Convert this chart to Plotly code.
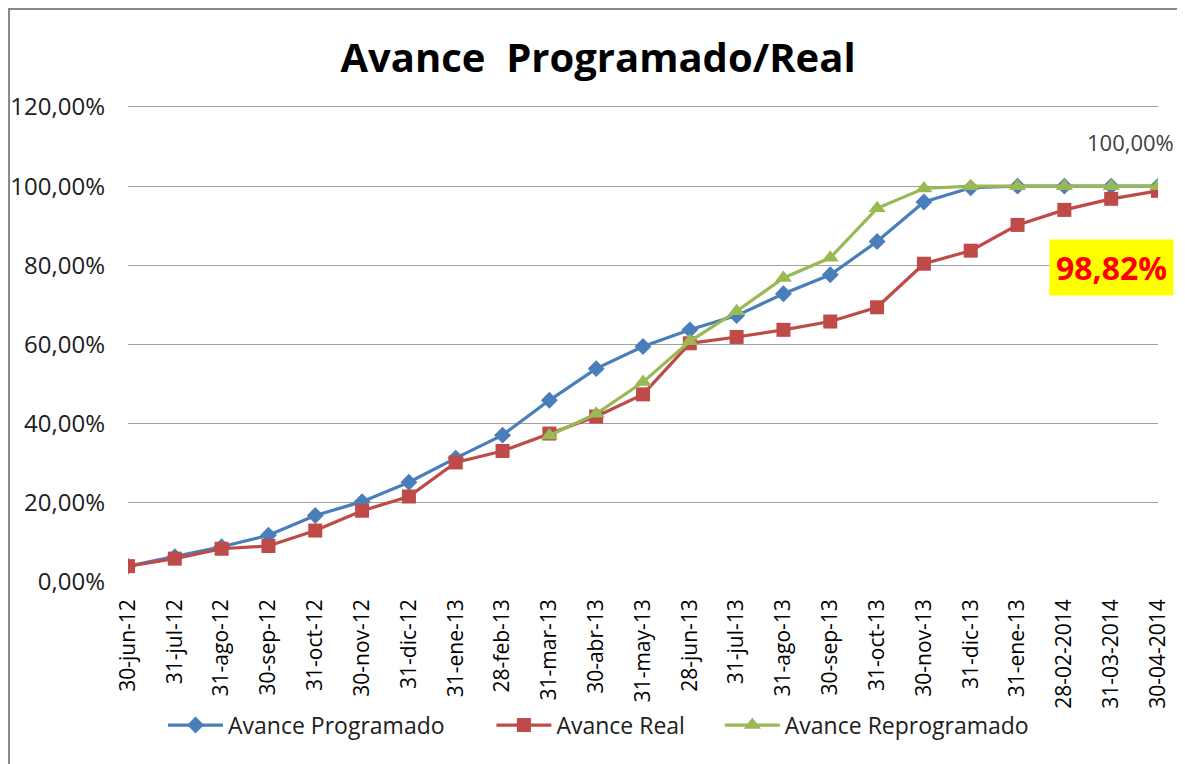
import plotly.graph_objects as go

dates = ["30-jun-12", "31-jul-12", "31-ago-12", "30-sep-12", "31-oct-12", "30-nov-12",
         "31-dic-12", "31-ene-13", "28-feb-13", "31-mar-13", "30-abr-13", "31-may-13",
         "28-jun-13", "31-jul-13", "31-ago-13", "30-sep-13", "31-oct-13", "30-nov-13",
         "31-dic-13", "31-ene-13", "28-02-2014", "31-03-2014", "30-04-2014"]

programado = [4.0, 6.4, 8.9, 11.8, 16.8, 20.3, 25.2, 31.3, 37.1, 45.9, 53.9, 59.5,
              63.7, 67.3, 72.8, 77.6, 86.0, 96.0, 99.6, 100, 100, 100, 100]
real = [4.0, 5.9, 8.4, 9.1, 13.0, 18.0, 21.6, 30.2, 33.1, 37.5, 41.8, 47.4,
        60.3, 61.9, 63.7, 65.8, 69.4, 80.4, 83.7, 90.2, 94.0, 96.8, 98.82]
reprogramado = [None] * 9 + [37.0, 42.5, 50.5, 60.8, 68.4, 76.8, 81.9, 94.4,
                             99.4, 100, 100, 100, 100, 100]

y_ticks = [0, 20, 40, 60, 80, 100, 120]
y_ticktext = [f"{v:.2f}".replace(".", ",") + "%" for v in y_ticks]

idx = list(range(len(dates)))
FONT = "Open Sans"

fig = go.Figure()
fig.add_trace(go.Scatter(x=idx, y=programado, name="Avance Programado" + "\u00a0" * 7,
                         mode="lines+markers",
                         line=dict(color="#4A7EBB", width=3.2),
                         marker=dict(symbol="diamond", size=13, color="#4A7EBB")))
fig.add_trace(go.Scatter(x=idx, y=real, name="Avance Real" + "\u00a0" * 5,
                         mode="lines+markers",
                         line=dict(color="#BE4B48", width=3.2),
                         marker=dict(symbol="square", size=14, color="#BE4B48")))
fig.add_trace(go.Scatter(x=idx, y=reprogramado, name="Avance Reprogramado",
                         mode="lines+markers",
                         line=dict(color="#98B954", width=3.2),
                         marker=dict(symbol="triangle-up", size=15, color="#98B954")))

fig.add_annotation(x=idx[-1], y=reprogramado[-1], text="100,00%", showarrow=False,
                   xshift=-28, yshift=44, font=dict(family=FONT, size=22, color="#404040"))
fig.add_annotation(x=idx[-1], y=real[-1], text="<b>98,82%</b>", showarrow=False,
                   xshift=-47, yshift=-77, bgcolor="#FFFF00", borderpad=6,
                   font=dict(family=FONT, size=32, color="#FF0000"))

fig.add_shape(type="rect", xref="paper", yref="paper", x0=-0.1155, x1=1.04, y0=-0.45, y1=1.2013,
              line=dict(color="#888888", width=2), fillcolor="rgba(0,0,0,0)", layer="below")

fig.update_layout(
    width=1185, height=764,
    margin=dict(l=120, r=35, t=97, b=190, autoexpand=False),
    paper_bgcolor="white", plot_bgcolor="white",
    title=dict(text="<b>Avance\u00a0 Programado/Real</b>", x=590 / 1185, xref="container",
               xanchor="center", y=(764 - 50) / 764, yanchor="middle",
               font=dict(family=FONT, size=40, color="#000000")),
    showlegend=True,
    legend=dict(orientation="h", x=0.034, xanchor="left", y=-0.30, yanchor="middle",
                font=dict(family=FONT, size=23, color="#202020"), itemwidth=55,
                bgcolor="rgba(0,0,0,0)"),
    xaxis=dict(range=[0, len(dates) - 1], tickmode="array", tickvals=idx, ticktext=dates,
               tickangle=-90, showgrid=False, zeroline=False, showline=False, ticks="",
               automargin=False, ticklabelstandoff=12,
               tickfont=dict(family=FONT, size=21, color="#000000")),
    yaxis=dict(range=[0, 120.5], tickmode="array", tickvals=y_ticks, ticktext=y_ticktext,
               showgrid=True, gridcolor="#A0A0A0", gridwidth=1.3, zeroline=False,
               showline=False, ticks="", automargin=False, ticklabelstandoff=22,
               tickfont=dict(family=FONT, size=24, color="#202020")),
)

fig.write_html("out.html")
